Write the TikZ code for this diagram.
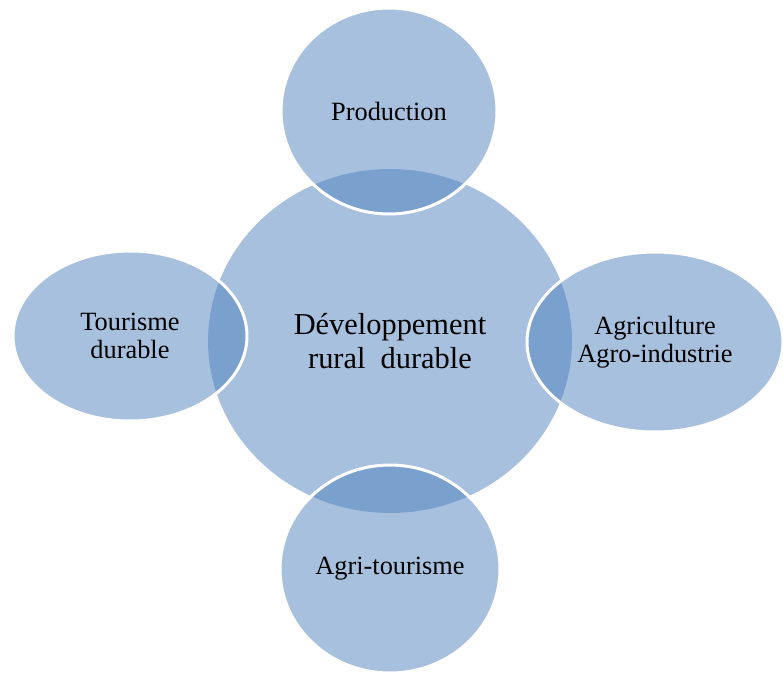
\documentclass[tikz,border=0pt]{standalone}
\usepackage{fontspec}
\setmainfont{Liberation Serif}
\usepackage{tikz}
\usetikzlibrary{shapes.geometric}
\definecolor{petalblue}{RGB}{79,129,189}
\tikzset{
    blob/.style={ellipse, inner sep=0pt, fill=petalblue, fill opacity=0.5,
        text opacity=1, text=black, align=center},
    hub/.style={blob, font=\fontsize{17.3}{19.3}\selectfont},
    petal/.style={blob, draw=white, draw opacity=1, line width=1.7pt,
        font=\fontsize{15}{15.9}\selectfont},
}

\begin{document}
\begin{tikzpicture}[x=0.02cm,y=-0.02cm]
\useasboundingbox (0,0) rectangle (783,673);
%\draw[step=50,lightgray,very thin] (0,0) grid (783,673);
\node[hub, minimum width=7.28cm, minimum height=6.88cm] (dev) at (390,341) {D\'eveloppement\\rural~ durable};
\node[petal, minimum width=4.32cm, minimum height=4.12cm] (prod) at (389,111) {Production};
\node[petal, minimum width=4.68cm, minimum height=3.40cm] (tour) at (130,336) {Tourisme\\durable};
\node[petal, minimum width=5.12cm, minimum height=3.60cm] (agri) at (655,342) {Agriculture\\Agro-industrie};
\node[petal, minimum width=4.40cm, minimum height=4.16cm] (agto) at (390,569) {Agri-tourisme};
\end{tikzpicture}
\end{document}
